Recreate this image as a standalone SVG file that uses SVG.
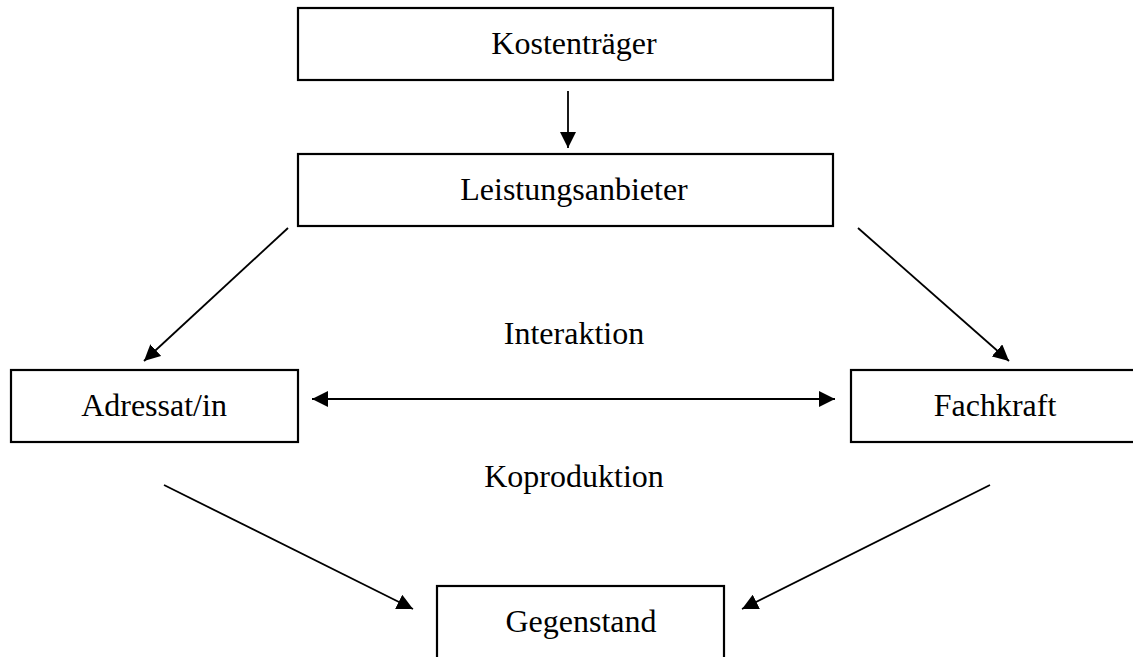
<svg xmlns="http://www.w3.org/2000/svg" width="1133" height="657" viewBox="0 0 1133 657">
<style>
.box{fill:#fff;stroke:#000;stroke-width:2.2}
.lbl{font-family:"Liberation Serif","Times New Roman",serif;font-size:32px;fill:#000;text-anchor:middle}
.con{stroke:#000;stroke-width:1.8;fill:none}
</style>
<defs>
<marker id="ah" markerUnits="userSpaceOnUse" markerWidth="18" markerHeight="16" refX="16" refY="8" orient="auto-start-reverse">
<path d="M0,0 L16,8 L0,16 z" fill="#000"/>
</marker>
</defs>
<rect width="1133" height="657" fill="#fff"/>
<g id="kostentraeger"><rect class="box" x="298" y="8" width="535" height="72"/><text class="lbl" x="574" y="54">Kostenträger</text></g>
<g id="leistungsanbieter"><rect class="box" x="298" y="154" width="535" height="72"/><text class="lbl" x="574" y="200">Leistungsanbieter</text></g>
<g id="adressat"><rect class="box" x="11" y="370" width="287" height="72"/><text class="lbl" x="154" y="416">Adressat/in</text></g>
<g id="fachkraft"><rect class="box" x="851" y="370" width="300" height="72"/><text class="lbl" x="995" y="416">Fachkraft</text></g>
<g id="gegenstand"><rect class="box" x="437" y="586" width="287" height="90"/><text class="lbl" x="581" y="632">Gegenstand</text></g>
<g id="labels"><text class="lbl" x="574" y="344">Interaktion</text><text class="lbl" x="574" y="487">Koproduktion</text></g>
<g id="connectors">
<line class="con" x1="568" y1="91" x2="568" y2="148" marker-end="url(#ah)"/>
<line class="con" x1="288" y1="228" x2="144" y2="361" marker-end="url(#ah)"/>
<line class="con" x1="858" y1="228" x2="1009" y2="361" marker-end="url(#ah)"/>
<line class="con" x1="312" y1="399" x2="835" y2="399" marker-start="url(#ah)" marker-end="url(#ah)"/>
<line class="con" x1="164" y1="485" x2="413" y2="609" marker-end="url(#ah)"/>
<line class="con" x1="990" y1="485" x2="742" y2="609" marker-end="url(#ah)"/>
</g>
</svg>
